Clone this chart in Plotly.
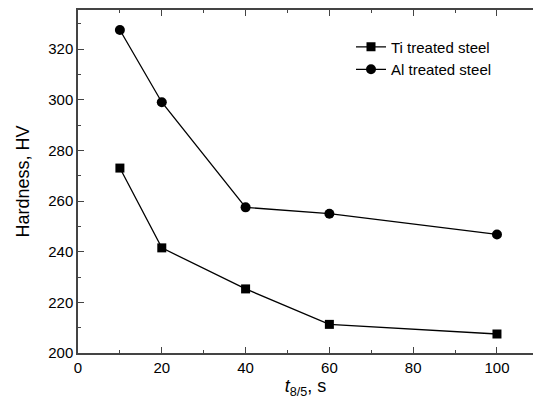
import plotly.graph_objects as go

t85 = [10, 20, 40, 60, 100]
ti_hv = [273, 241.5, 225.3, 211.3, 207.5]
al_hv = [327.5, 299, 257.5, 255, 246.8]

fig = go.Figure()
fig.add_trace(go.Scatter(x=t85, y=ti_hv, mode="lines+markers", name="Ti treated steel",
                         line=dict(color="black", width=1.3),
                         marker=dict(symbol="square", size=9, color="black")))
fig.add_trace(go.Scatter(x=t85, y=al_hv, mode="lines+markers", name="Al treated steel",
                         line=dict(color="black", width=1.3),
                         marker=dict(symbol="circle", size=10, color="black")))

axis_common = dict(showgrid=False, zeroline=False, showline=True, linecolor="#444", linewidth=1.5,
                   ticks="inside", ticklen=6, tickcolor="#444",
                   tickfont=dict(family="Liberation Sans, Arial", size=15, color="black"))

fig.update_layout(
    width=533, height=404,
    margin=dict(l=78, r=0, t=10, b=51),
    plot_bgcolor="white", paper_bgcolor="white",
    font=dict(family="Liberation Sans, Arial", size=15, color="black"),
    showlegend=True,
    legend=dict(x=0.6, y=0.94, xanchor="left", yanchor="top", bgcolor="rgba(0,0,0,0)",
                font=dict(size=15), tracegroupgap=0, itemwidth=30),
    xaxis=dict(range=[0, 108.6], tick0=0, dtick=20, mirror="ticks",
               minor=dict(dtick=10, ticks="inside", ticklen=3, tickcolor="#444"),
               title=dict(text="<i>t</i><sub>8/5</sub>, s", standoff=4), **axis_common),
    yaxis=dict(range=[200, 335.4], tick0=200, dtick=20, mirror=False,
               minor=dict(dtick=10, ticks="inside", ticklen=3, tickcolor="#444"),
               title=dict(text="Hardness, HV", standoff=14), **axis_common),
)
fig.write_html("out.html")
